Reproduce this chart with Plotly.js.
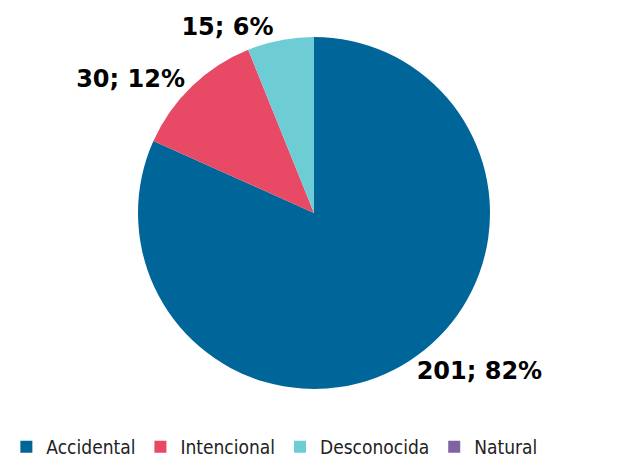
<!DOCTYPE html>
<html>
<head>
<meta charset="utf-8">
<script src="https://cdn.plot.ly/plotly-3.0.1.min.js"></script>
<style>html,body{margin:0;padding:0;background:#fff;}#chart{width:637px;height:462px;}</style>
</head>
<body>
<div id="chart"></div>
<script>
const categories = ["Accidental", "Intencional", "Desconocida", "Natural"];
const counts = [201, 30, 15, 0];
const colors = ["#006699", "#E84965", "#6ECCD5", "#8064A2"];

const total = counts.reduce((a, b) => a + b, 0);
const labelsText = counts.map(v => v > 0 ? v + "; " + Math.round(v / total * 100) + "%" : "");

const trace = {
  type: "pie",
  labels: categories,
  values: counts,
  text: labelsText,
  textinfo: "text",
  textposition: "outside",
  sort: false,
  direction: "clockwise",
  rotation: 0,
  marker: { colors: colors, line: { width: 0 } },
  textfont: { family: "DejaVu Sans", size: 24, color: "#000000", weight: "bold" },
  outsidetextfont: { family: "DejaVu Sans", size: 24, color: "#000000", weight: "bold" },
  automargin: false,
  hoverinfo: "label+value+percent",
  domain: { x: [0, 1], y: [0, 1] }
};

const layout = {
  width: 637,
  height: 462,
  margin: { l: 0, r: 9, t: 37, b: 73 },
  paper_bgcolor: "#ffffff",
  plot_bgcolor: "#ffffff",
  showlegend: true,
  legend: {
    orientation: "h",
    x: 0.01,
    xanchor: "left",
    xref: "container",
    y: 0.0325,
    yanchor: "middle",
    yref: "container",
    font: { family: "DejaVu Sans Condensed", size: 19, color: "#222222" },
    itemwidth: 30,
    traceorder: "normal"
  }
};

Plotly.newPlot("chart", [trace], layout, { displayModeBar: false, staticPlot: true });
</script>
</body>
</html>
